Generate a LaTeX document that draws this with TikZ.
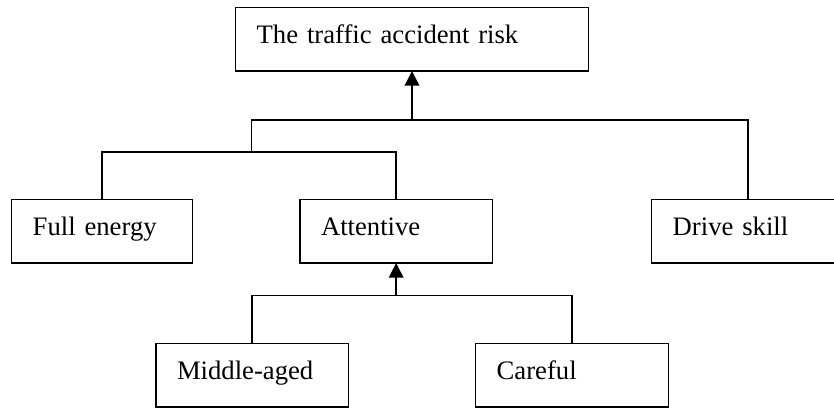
\documentclass[tikz,border=0pt]{standalone}
\usepackage{fontspec}
\setmainfont{Liberation Serif}
\usepackage{tikz}
\usetikzlibrary{arrows.meta}

\tikzset{
  factor/.style={draw, line width=1.1pt, anchor=north west, outer sep=0pt,
    inner xsep=15.75pt, inner ysep=0pt, align=left,
    text height=27pt, text depth=20.8pt, font=\fontsize{20}{24}\selectfont},
  link/.style={line width=1.1pt},
  uparrow/.style={line width=1.1pt, -{Triangle[length=11pt, width=11pt]}}
}

\begin{document}
\begin{tikzpicture}[x=0.75pt, y=-0.75pt]
      \useasboundingbox (0,0) rectangle (834,408);
      \foreach \name/\xp/\yp/\bw/\txt in {%
        risk/235.7/7.3/352.6/The traffic accident risk,
        energy/11.7/199.3/180.6/Full energy,
        attentive/300/199.3/192.3/Attentive,
        drive/651.7/199.3/193/Drive skill,
        middle/156/343.3/192.3/Middle-aged,
        careful/475.7/343.3/192.6/Careful
        } {
        \pgfmathsetmacro\tw{(\bw - 42) * 0.75}
        \node[factor, text width=\tw pt] (\name) at (\xp, \yp) {\txt};
      }
      % upper level
      \coordinate (topbar) at (risk.south |- 0,120);
      \coordinate (hub) at (251.7,152);
      \draw[uparrow] (topbar) -- (risk.south);
      \draw[link] (energy.north) |- (hub) -| (attentive.north);
      \draw[link] (hub) |- (topbar) -| (drive.north);
      % lower level
      \coordinate (lowbar) at (attentive.south |- 0,295.7);
      \draw[uparrow] (lowbar) -- (attentive.south);
      \draw[link] (middle.north) |- (lowbar) -| (careful.north);
\end{tikzpicture}
\end{document}
